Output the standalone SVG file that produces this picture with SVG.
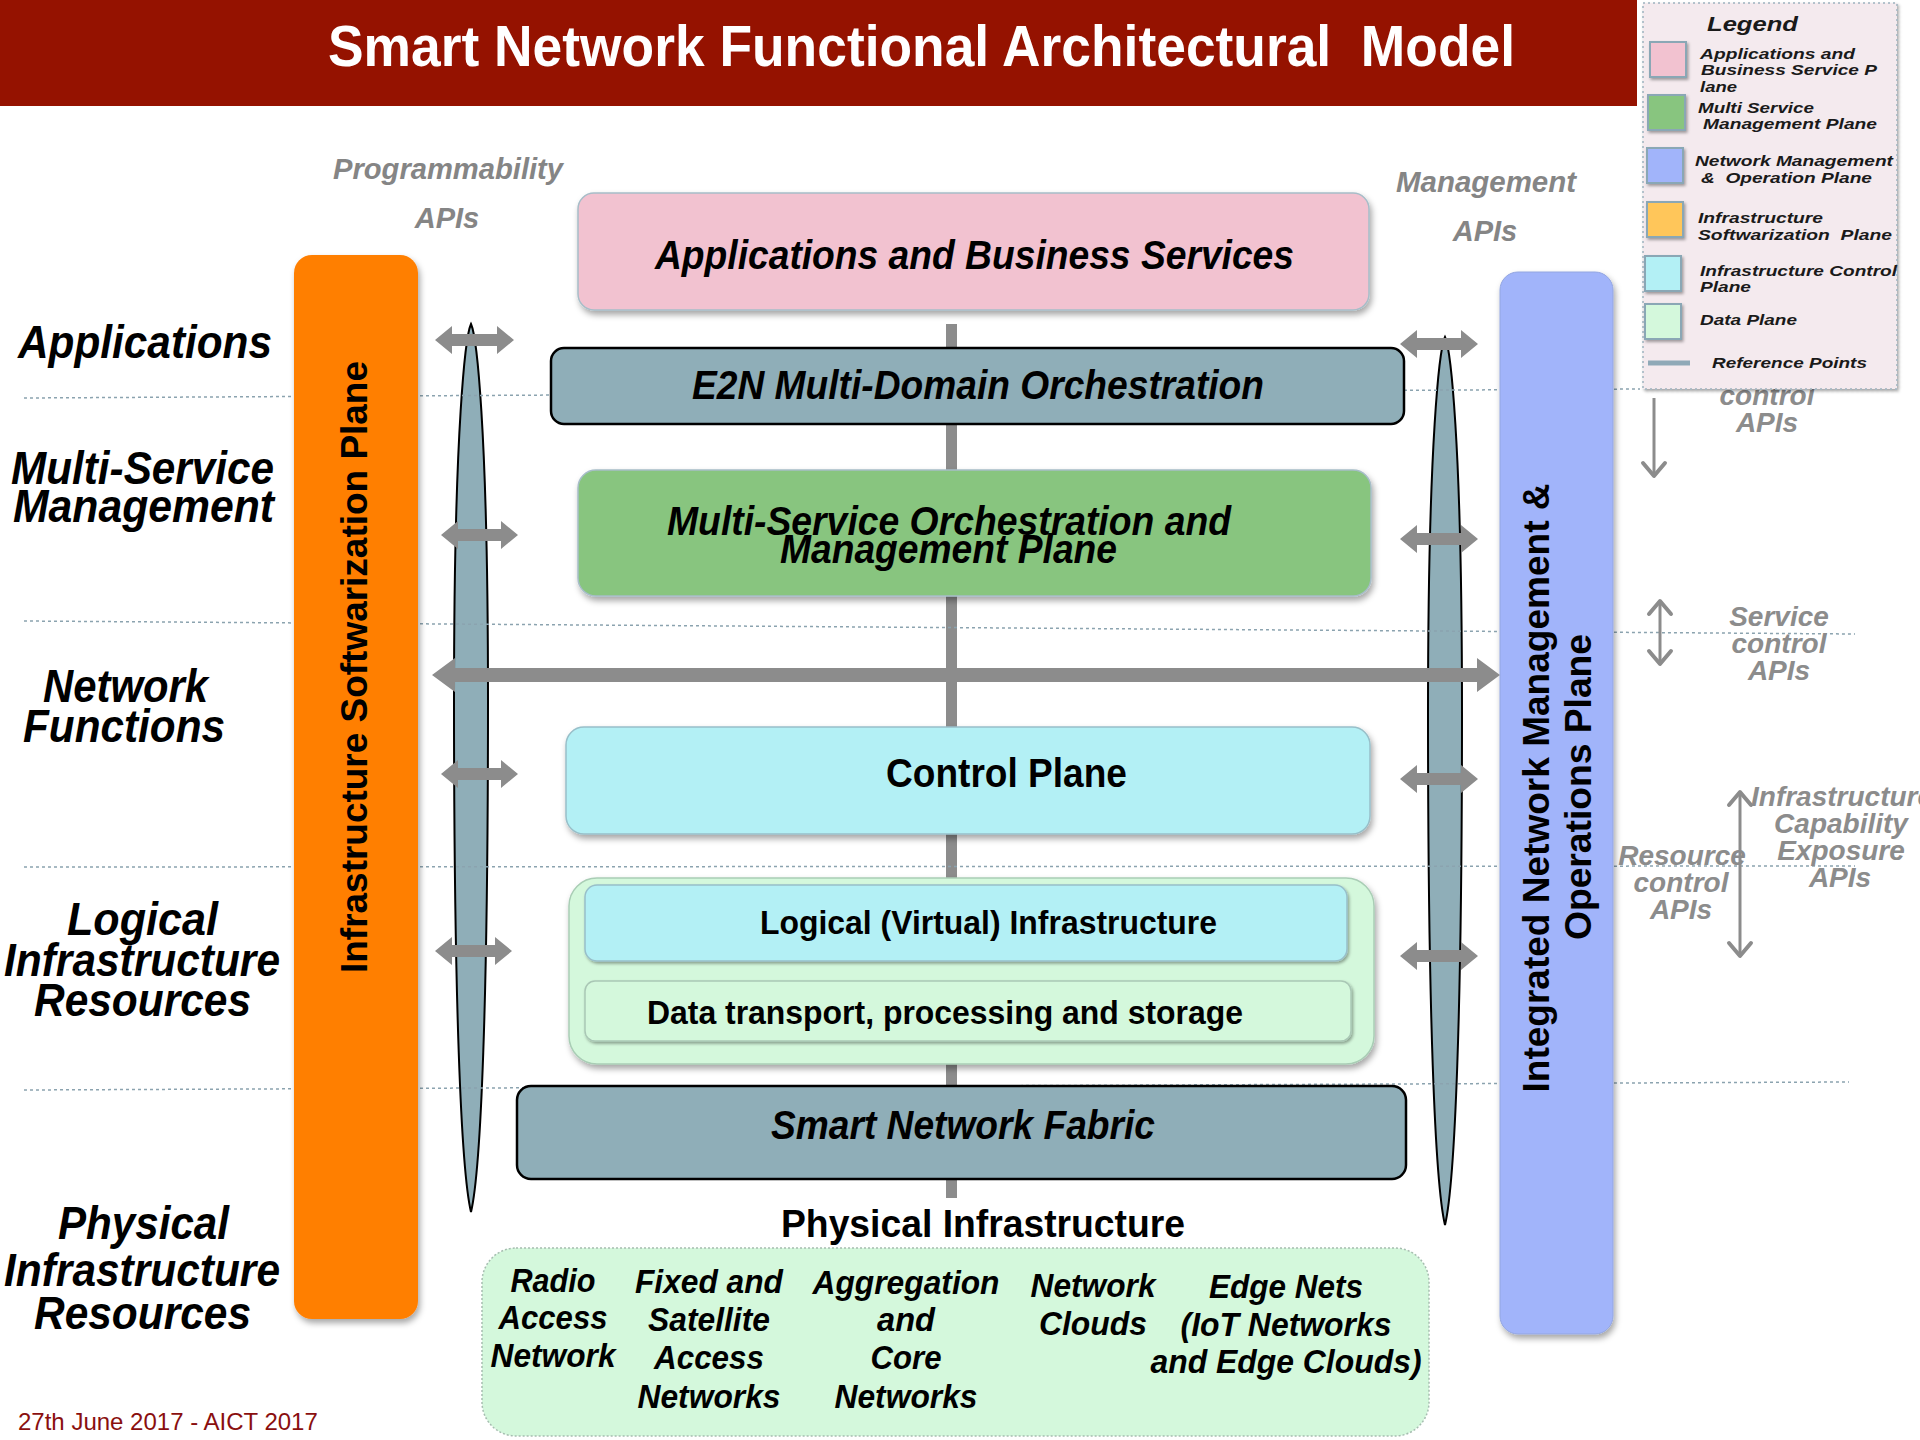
<svg xmlns="http://www.w3.org/2000/svg" width="1920" height="1440" viewBox="0 0 1920 1440">
<defs>
<filter id="sh" x="-20%" y="-20%" width="140%" height="150%">
<feDropShadow dx="2" dy="4" stdDeviation="3" flood-color="#000" flood-opacity="0.35"/>
</filter>
<filter id="shs" x="-30%" y="-30%" width="160%" height="160%">
<feDropShadow dx="1.5" dy="2" stdDeviation="1.5" flood-color="#000" flood-opacity="0.35"/>
</filter>
</defs>
<style>
text{font-family:"Liberation Sans",Arial,sans-serif;}
.bi{font-weight:bold;font-style:italic;fill:#000;}
.b{font-weight:bold;fill:#000;}
.lbl{font-weight:bold;font-style:italic;font-size:46px;fill:#000;}
.api{font-weight:bold;font-style:italic;font-size:28px;fill:#8C8C8C;text-anchor:middle;}
.apih{font-weight:bold;font-style:italic;font-size:29px;fill:#858585;text-anchor:middle;}
.leg{font-weight:bold;font-style:italic;font-size:15px;fill:#1a1a1a;white-space:pre;}
.dot{stroke:#8BA3AF;stroke-width:1.5;stroke-dasharray:3 3;fill:none;}
.blk{fill:#8C8C8C;}
.thin{stroke:#8C8C8C;stroke-width:3;fill:none;}
.chev{stroke:#8C8C8C;stroke-width:4;fill:none;stroke-linecap:round;stroke-linejoin:round;}
.spindle{fill:#8FAEB8;stroke:#000;stroke-width:2;}
.sw{stroke:#8AA7B5;stroke-width:2;filter:url(#shs);}
.phy{font-weight:bold;font-style:italic;font-size:34px;fill:#000;text-anchor:middle;}
</style>

<g id="title">
<rect x="0" y="0" width="1637" height="106" fill="#951200"/>
<text x="328" y="66" font-size="58" font-weight="bold" fill="#fff" textLength="1187" lengthAdjust="spacingAndGlyphs" style="white-space:pre">Smart Network Functional Architectural  Model</text>
</g>

<g id="connectors">
<rect x="946" y="324" width="11" height="874" fill="#8C8C8C"/>
<path class="spindle" d="M471,324 C476,335 488,420 488,700 C488,1000 481,1170 471,1212 C461,1170 454,1000 454,700 C454,420 466,335 471,324 Z"/>
<path class="spindle" d="M1445,337 C1450,348 1462,433 1462,713 C1462,1013 1455,1183 1445,1225 C1435,1183 1428,1013 1428,713 C1428,433 1440,348 1445,337 Z"/>
<path class="dot" d="M24,398 L1640,389"/>
<path class="dot" d="M24,621 L1855,634"/>
<path class="dot" d="M24,867 L1855,866"/>
<path class="dot" d="M24,1090 L1849,1082"/>
</g>

<g id="softwarization-plane">
<rect x="294" y="255" width="124" height="1064" rx="18" fill="#FF7F00" filter="url(#sh)"/>
<text class="b" font-size="37" text-anchor="middle" transform="translate(367,667) rotate(-90)" textLength="612" lengthAdjust="spacingAndGlyphs">Infrastructure Softwarization Plane</text>
</g>

<g id="management-plane">
<rect x="1500" y="272" width="113" height="1062" rx="18" fill="#A1B4FA" stroke="#93A6E0" stroke-width="1" filter="url(#sh)"/>
<text class="b" font-size="37" text-anchor="middle" transform="translate(1549,788) rotate(-90)" textLength="609" lengthAdjust="spacingAndGlyphs">Integrated Network Management &amp;</text>
<text class="b" font-size="37" text-anchor="middle" transform="translate(1591,787) rotate(-90)" textLength="306" lengthAdjust="spacingAndGlyphs">Operations Plane</text>
</g>

<g id="applications-box">
<rect x="578" y="193" width="791" height="117" rx="16" fill="#F2C2D0" stroke="#A7BDC8" stroke-width="1.5" filter="url(#sh)"/>
<text class="bi" x="655" y="269" font-size="40" textLength="639" lengthAdjust="spacingAndGlyphs">Applications and Business Services</text>
</g>

<g id="e2n-box">
<rect x="551" y="348" width="853" height="76" rx="13" fill="#8FAEB8" stroke="#000" stroke-width="2.5"/>
<text class="bi" x="692" y="399" font-size="40" textLength="572" lengthAdjust="spacingAndGlyphs">E2N Multi-Domain Orchestration</text>
</g>

<g id="multiservice-box">
<rect x="578" y="470" width="793" height="126" rx="18" fill="#88C57F" stroke="#A7BDC8" stroke-width="1.5" filter="url(#sh)"/>
<text class="bi" x="667" y="535" font-size="40" textLength="564" lengthAdjust="spacingAndGlyphs">Multi-Service Orchestration and</text>
<text class="bi" x="780" y="563" font-size="40" textLength="337" lengthAdjust="spacingAndGlyphs">Management Plane</text>
</g>

<g id="control-plane">
<rect x="566" y="727" width="804" height="107" rx="18" fill="#B3F0F5" stroke="#98BFC9" stroke-width="1.5" filter="url(#sh)"/>
<text class="b" x="886" y="787" font-size="40" textLength="241" lengthAdjust="spacingAndGlyphs">Control Plane</text>
</g>

<g id="logical-group">
<rect x="569" y="878" width="805" height="186" rx="28" fill="#D4F8DC" stroke="#A9CDB5" stroke-width="1.5" filter="url(#sh)"/>
</g>
<g id="logical-infrastructure">
<rect x="585" y="885" width="762" height="76" rx="12" fill="#B3F0F5" stroke="#98BFC9" stroke-width="1.5" filter="url(#shs)"/>
<text class="b" x="760" y="934" font-size="33" textLength="457" lengthAdjust="spacingAndGlyphs">Logical (Virtual) Infrastructure</text>
</g>
<g id="data-transport">
<rect x="585" y="981" width="766" height="60" rx="10" fill="#D4F8DC" stroke="#A9C7B5" stroke-width="1.5" filter="url(#shs)"/>
<text class="b" x="647" y="1024" font-size="33" textLength="596" lengthAdjust="spacingAndGlyphs">Data transport, processing and storage</text>
</g>

<g id="fabric-box">
<rect x="517" y="1086" width="889" height="93" rx="14" fill="#8FAEB8" stroke="#000" stroke-width="2.5"/>
<text class="bi" x="771" y="1139" font-size="40" textLength="384" lengthAdjust="spacingAndGlyphs">Smart Network Fabric</text>
</g>

<g id="physical-infrastructure">
<text class="b" x="781" y="1237" font-size="38" textLength="404" lengthAdjust="spacingAndGlyphs">Physical Infrastructure</text>
<rect x="482" y="1248" width="947" height="188" rx="34" fill="#D4F8DC" stroke="#A6BDB0" stroke-width="1.5" stroke-dasharray="2 2"/>
<text class="phy" x="553" y="1292" textLength="85" lengthAdjust="spacingAndGlyphs">Radio</text>
<text class="phy" x="553" y="1329" textLength="109" lengthAdjust="spacingAndGlyphs">Access</text>
<text class="phy" x="553" y="1367" textLength="125" lengthAdjust="spacingAndGlyphs">Network</text>
<text class="phy" x="709" y="1293" textLength="148" lengthAdjust="spacingAndGlyphs">Fixed and</text>
<text class="phy" x="709" y="1331" textLength="122" lengthAdjust="spacingAndGlyphs">Satellite</text>
<text class="phy" x="709" y="1369" textLength="110" lengthAdjust="spacingAndGlyphs">Access</text>
<text class="phy" x="709" y="1408" textLength="143" lengthAdjust="spacingAndGlyphs">Networks</text>
<text class="phy" x="906" y="1294" textLength="187" lengthAdjust="spacingAndGlyphs">Aggregation</text>
<text class="phy" x="906" y="1331" textLength="58" lengthAdjust="spacingAndGlyphs">and</text>
<text class="phy" x="906" y="1369" textLength="71" lengthAdjust="spacingAndGlyphs">Core</text>
<text class="phy" x="906" y="1408" textLength="143" lengthAdjust="spacingAndGlyphs">Networks</text>
<text class="phy" x="1093" y="1297" textLength="125" lengthAdjust="spacingAndGlyphs">Network</text>
<text class="phy" x="1093" y="1335" textLength="108" lengthAdjust="spacingAndGlyphs">Clouds</text>
<text class="phy" x="1286" y="1298" textLength="154" lengthAdjust="spacingAndGlyphs">Edge Nets</text>
<text class="phy" x="1286" y="1336" textLength="211" lengthAdjust="spacingAndGlyphs">(IoT Networks</text>
<text class="phy" x="1286" y="1373" textLength="271" lengthAdjust="spacingAndGlyphs">and Edge Clouds)</text>
</g>

<g id="reference-arrows">
<path class="blk" d="M435,340 L452,326 L452,334 L497,334 L497,326 L514,340 L497,354 L497,346 L452,346 L452,354 Z"/>
<path class="blk" d="M441,535 L458,521 L458,529 L501,529 L501,521 L518,535 L501,549 L501,541 L458,541 L458,549 Z"/>
<path class="blk" d="M441,774 L458,760 L458,768 L501,768 L501,760 L518,774 L501,788 L501,780 L458,780 L458,788 Z"/>
<path class="blk" d="M435,951 L452,937 L452,945 L495,945 L495,937 L512,951 L495,965 L495,957 L452,957 L452,965 Z"/>
<path class="blk" d="M1400,344 L1417,330 L1417,338 L1461,338 L1461,330 L1478,344 L1461,358 L1461,350 L1417,350 L1417,358 Z"/>
<path class="blk" d="M1400,539 L1417,525 L1417,533 L1461,533 L1461,525 L1478,539 L1461,553 L1461,545 L1417,545 L1417,553 Z"/>
<path class="blk" d="M1400,779 L1417,765 L1417,773 L1461,773 L1461,765 L1478,779 L1461,793 L1461,785 L1417,785 L1417,793 Z"/>
<path class="blk" d="M1400,956 L1417,942 L1417,950 L1461,950 L1461,942 L1478,956 L1461,970 L1461,962 L1417,962 L1417,970 Z"/>
<path class="blk" d="M432,675 L455,658 L455,668 L1477,668 L1477,658 L1500,675 L1477,692 L1477,682 L455,682 L455,692 Z"/>
</g>

<g id="layer-labels">
<text class="lbl" x="18" y="358" textLength="254" lengthAdjust="spacingAndGlyphs">Applications</text>
<text class="lbl" x="11" y="484" textLength="263" lengthAdjust="spacingAndGlyphs">Multi-Service</text>
<text class="lbl" x="13" y="522" textLength="261" lengthAdjust="spacingAndGlyphs">Management</text>
<text class="lbl" x="43" y="702" textLength="165" lengthAdjust="spacingAndGlyphs">Network</text>
<text class="lbl" x="23" y="742" textLength="202" lengthAdjust="spacingAndGlyphs">Functions</text>
<text class="lbl" x="67" y="935" textLength="151" lengthAdjust="spacingAndGlyphs">Logical</text>
<text class="lbl" x="4" y="976" textLength="276" lengthAdjust="spacingAndGlyphs">Infrastructure</text>
<text class="lbl" x="34" y="1016" textLength="217" lengthAdjust="spacingAndGlyphs">Resources</text>
<text class="lbl" x="58" y="1239" textLength="171" lengthAdjust="spacingAndGlyphs">Physical</text>
<text class="lbl" x="4" y="1286" textLength="276" lengthAdjust="spacingAndGlyphs">Infrastructure</text>
<text class="lbl" x="34" y="1329" textLength="217" lengthAdjust="spacingAndGlyphs">Resources</text>
</g>

<g id="api-labels">
<text class="apih" x="448" y="179" textLength="230" lengthAdjust="spacingAndGlyphs">Programmability</text>
<text class="apih" x="447" y="228">APIs</text>
<text class="apih" x="1486" y="192" textLength="180" lengthAdjust="spacingAndGlyphs">Management</text>
<text class="apih" x="1485" y="241">APIs</text>
</g>

<g id="right-apis">
<text class="api" x="1767" y="405">control</text>
<text class="api" x="1767" y="432">APIs</text>
<path class="thin" d="M1654,398 L1654,476"/>
<path class="chev" d="M1643,463 L1654,476 L1665,463"/>
<path class="thin" d="M1660,602 L1660,663"/>
<path class="chev" d="M1649,614 L1660,601 L1671,614"/>
<path class="chev" d="M1649,651 L1660,664 L1671,651"/>
<text class="api" x="1779" y="626">Service</text>
<text class="api" x="1779" y="653">control</text>
<text class="api" x="1779" y="680">APIs</text>
<path class="thin" d="M1740,792 L1740,956"/>
<path class="chev" d="M1729,805 L1740,792 L1751,805"/>
<path class="chev" d="M1729,943 L1740,956 L1751,943"/>
<text class="api" x="1751" y="806" style="text-anchor:start">Infrastructure</text>
<text class="api" x="1841" y="833">Capability</text>
<text class="api" x="1841" y="860">Exposure</text>
<text class="api" x="1840" y="887">APIs</text>
<text class="api" x="1682" y="865">Resource</text>
<text class="api" x="1681" y="892">control</text>
<text class="api" x="1681" y="919">APIs</text>
</g>

<g id="legend">
<rect x="1643" y="3" width="254" height="386" fill="#F4EAEE" stroke="#9DB3BE" stroke-width="1.5" stroke-dasharray="2 3" filter="url(#shs)"/>
<text x="1707" y="31" font-size="21" font-weight="bold" font-style="italic" fill="#1a1a1a" textLength="91" lengthAdjust="spacingAndGlyphs">Legend</text>
<rect class="sw" x="1650" y="42" width="36" height="35" fill="#F2C2D0"/>
<text class="leg" x="1700" y="59" textLength="155" lengthAdjust="spacingAndGlyphs">Applications and</text>
<text class="leg" x="1701" y="75" textLength="176" lengthAdjust="spacingAndGlyphs">Business Service P</text>
<text class="leg" x="1700" y="92" textLength="37" lengthAdjust="spacingAndGlyphs">lane</text>
<rect class="sw" x="1648" y="95" width="37" height="35" fill="#88C57F"/>
<text class="leg" x="1698" y="113" textLength="116" lengthAdjust="spacingAndGlyphs">Multi Service</text>
<text class="leg" x="1703" y="129" textLength="174" lengthAdjust="spacingAndGlyphs">Management Plane</text>
<rect class="sw" x="1647" y="148" width="36" height="35" fill="#A1B4FA"/>
<text class="leg" x="1695" y="166" textLength="198" lengthAdjust="spacingAndGlyphs">Network Management</text>
<text class="leg" x="1701" y="183" textLength="171" lengthAdjust="spacingAndGlyphs">&amp;  Operation Plane</text>
<rect class="sw" x="1647" y="202" width="36" height="35" fill="#FFC65A"/>
<text class="leg" x="1698" y="223" textLength="125" lengthAdjust="spacingAndGlyphs">Infrastructure</text>
<text class="leg" x="1698" y="240" textLength="194" lengthAdjust="spacingAndGlyphs">Softwarization  Plane</text>
<rect class="sw" x="1645" y="256" width="36" height="35" fill="#B3F0F5"/>
<text class="leg" x="1700" y="276" textLength="197" lengthAdjust="spacingAndGlyphs">Infrastructure Control</text>
<text class="leg" x="1700" y="292" textLength="51" lengthAdjust="spacingAndGlyphs">Plane</text>
<rect class="sw" x="1645" y="304" width="36" height="35" fill="#D4F8DC"/>
<text class="leg" x="1700" y="325" textLength="97" lengthAdjust="spacingAndGlyphs">Data Plane</text>
<line x1="1648" y1="363" x2="1690" y2="363" stroke="#8FA9B7" stroke-width="5"/>
<text class="leg" x="1712" y="368" textLength="155" lengthAdjust="spacingAndGlyphs">Reference Points</text>
</g>

<g id="footer">
<text x="18" y="1430" font-size="24" fill="#8A0F0F">27th June 2017 - AICT 2017</text>
</g>
</svg>
